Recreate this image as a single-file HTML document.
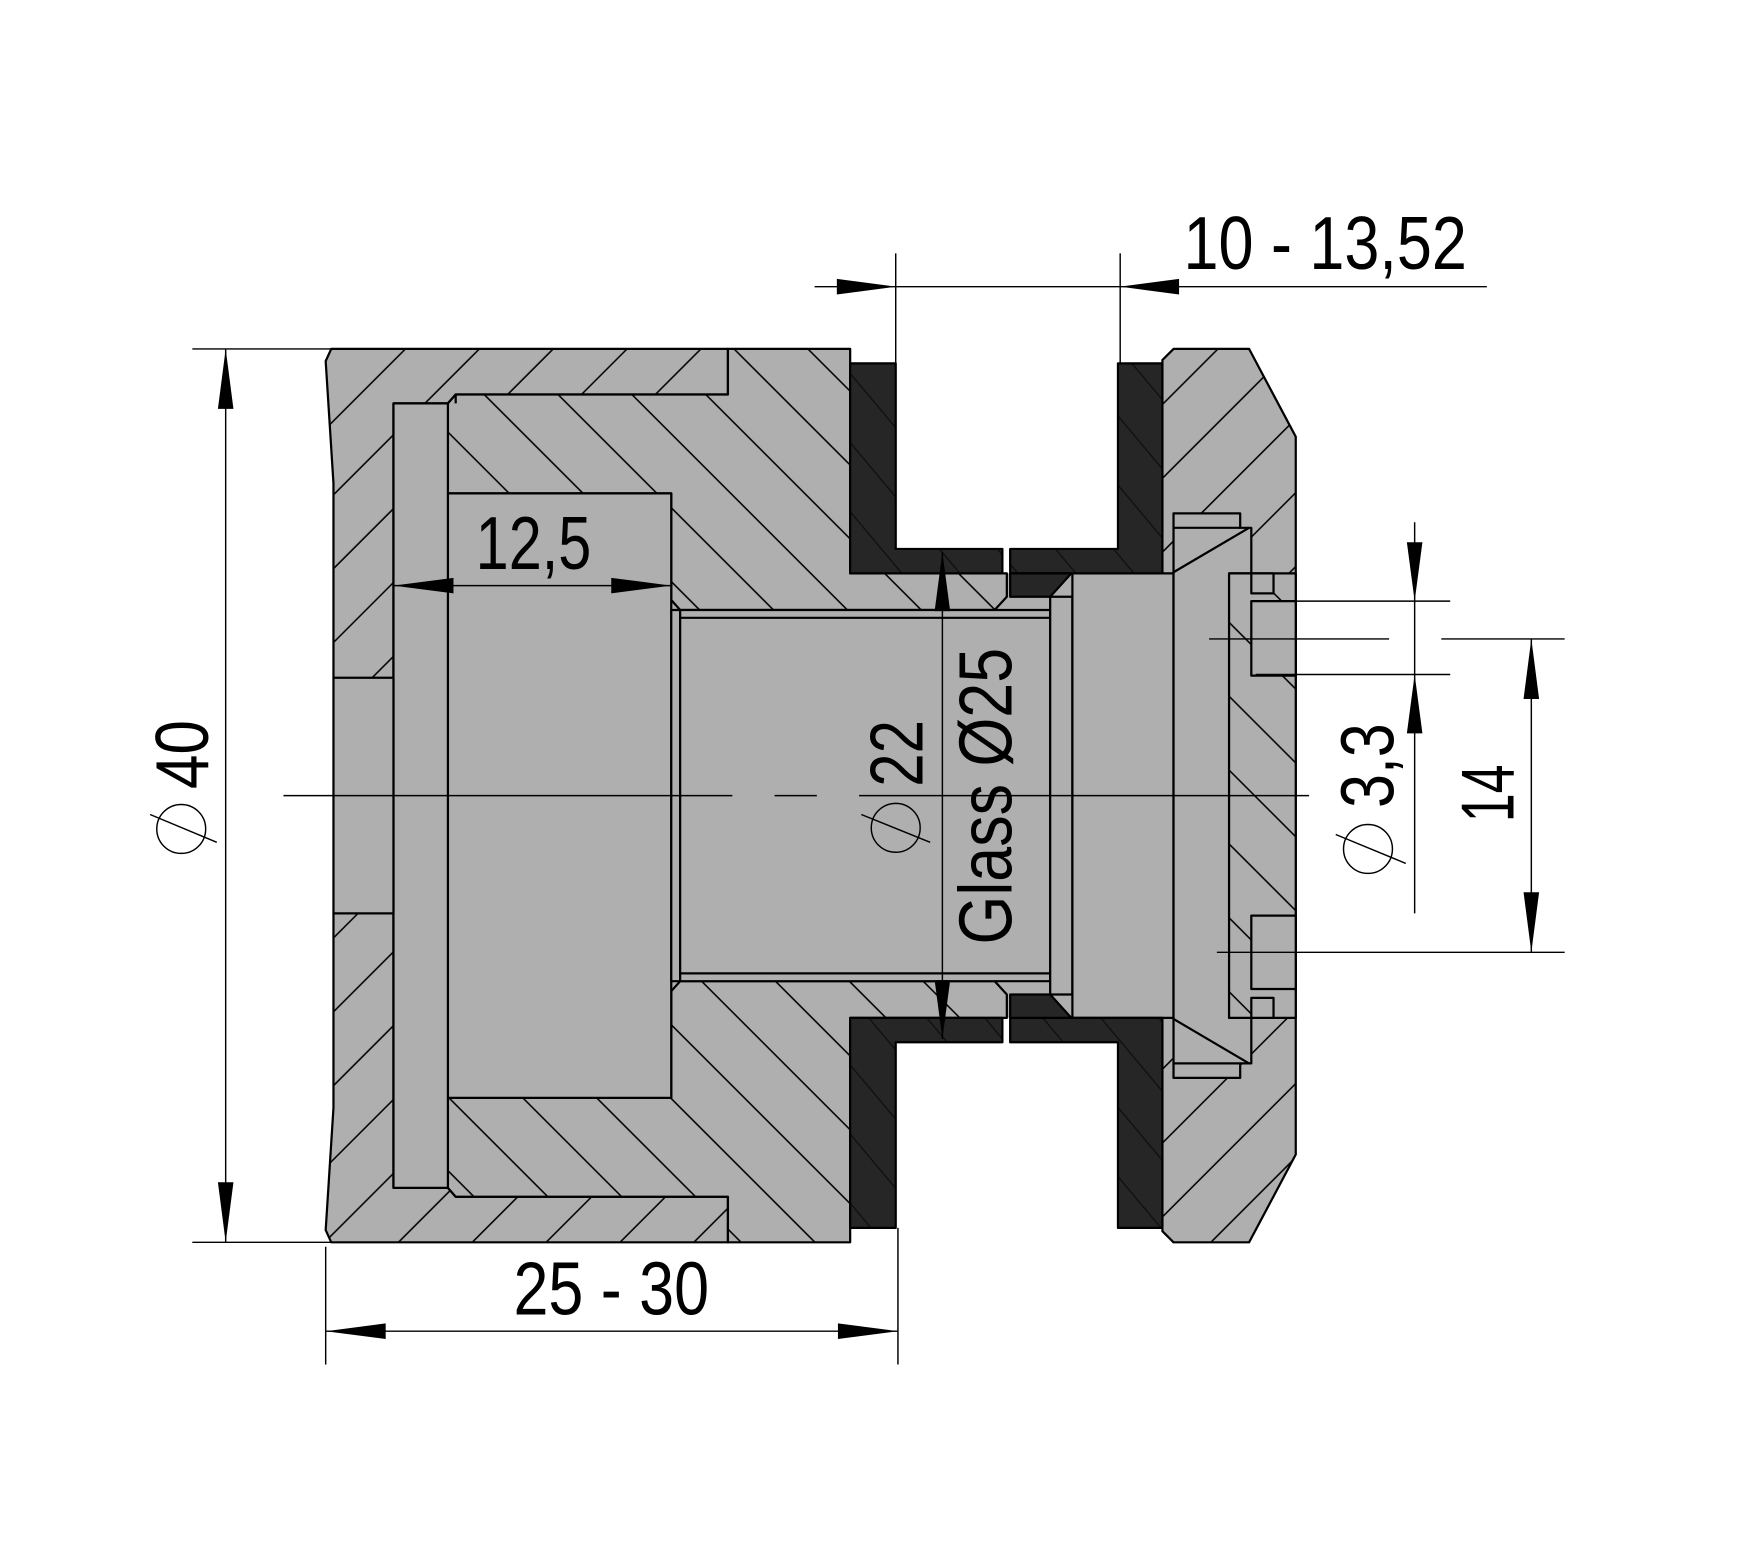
<!DOCTYPE html>
<html><head><meta charset="utf-8"><style>html,body{margin:0;padding:0;background:#fff}svg{display:block}</style></head>
<body>
<svg width="1737" height="1559" viewBox="0 0 1563 1403" xmlns="http://www.w3.org/2000/svg">
<defs>
<pattern id="hf" patternUnits="userSpaceOnUse" width="47" height="47" patternTransform="rotate(45)"><line x1="10" y1="0" x2="10" y2="47" stroke="#000" stroke-width="1.4"/></pattern>
<pattern id="hb" patternUnits="userSpaceOnUse" width="47" height="47" patternTransform="rotate(-45)"><line x1="10" y1="0" x2="10" y2="47" stroke="#000" stroke-width="1.4"/></pattern>
<pattern id="hs" patternUnits="userSpaceOnUse" width="40" height="40" patternTransform="rotate(-40)"><line x1="10" y1="0" x2="10" y2="40" stroke="#000" stroke-width="1.2"/></pattern>
</defs>
<rect x="600" y="516" width="370" height="400" fill="#afafaf"/>
<g stroke="#000" stroke-width="2" stroke-linejoin="round">
<g fill="#afafaf">
<polygon points="298,314 655,314 655,355 410,355 403,363 354,363 354,610 300,610 300,435 293,325"/>
<polygon points="354,822 300,822 300,997 293,1107 298,1118 655,1118 655,1077 410,1077 403,1069 354,1069"/>
<polygon points="655,314 765,314 765,516 906,516 906,537 895,549 612,549 604,540 604,444 403,444 403,363 410,355 655,355"/>
<polygon points="655,1118 765,1118 765,916 906,916 906,895 895,883 612,883 604,892 604,988 403,988 403,1069 410,1077 655,1077"/>
<polygon points="1046,324 1056,314 1124,314 1166,393 1166,1039 1124,1118 1056,1118 1046,1108"/>
</g>
<g stroke="none">
<polygon points="298,314 655,314 655,355 410,355 403,363 354,363 354,610 300,610 300,435 293,325" fill="url(#hf)"/>
<polygon points="354,822 300,822 300,997 293,1107 298,1118 655,1118 655,1077 410,1077 403,1069 354,1069" fill="url(#hf)"/>
<polygon points="655,314 765,314 765,516 906,516 906,537 895,549 612,549 604,540 604,444 403,444 403,363 410,355 655,355" fill="url(#hb)"/>
<polygon points="655,1118 765,1118 765,916 906,916 906,895 895,883 612,883 604,892 604,988 403,988 403,1069 410,1077 655,1077" fill="url(#hb)"/>
<polygon points="1046,324 1056,314 1124,314 1166,393 1166,1039 1124,1118 1056,1118 1046,1108" fill="url(#hf)"/>
</g>
<g fill="#afafaf">
<rect x="403" y="444" width="201" height="544"/>
<rect x="354" y="363" width="49" height="706"/>
<rect x="300" y="610" width="54" height="212"/>
<rect x="604" y="549" width="8" height="334"/>
<rect x="612" y="549" width="333" height="334"/>
<rect x="945" y="537" width="20" height="358"/>
<rect x="965" y="516" width="91" height="400"/>
<polygon points="1056,462 1116,462 1116,475 1126,475 1126,516 1106,516 1106,916 1126,916 1126,957 1116,957 1116,970 1056,970"/>
<rect x="1106" y="516" width="60" height="400"/>
</g>
<rect x="1106" y="516" width="60" height="400" fill="url(#hb)" stroke="none"/>
<g fill="#afafaf">
<rect x="1126" y="541" width="40" height="67"/>
<rect x="1126" y="824" width="40" height="66"/>
<rect x="1126" y="516" width="20" height="18"/>
<rect x="1126" y="898" width="20" height="18"/>
</g>
<g fill="none">
<line x1="1056" y1="475" x2="1116" y2="475"/>
<line x1="1056" y1="957" x2="1116" y2="957"/>
<line x1="1056" y1="515" x2="1124" y2="475"/>
<line x1="1056" y1="917" x2="1124" y2="957"/>
<line x1="612" y1="556" x2="945" y2="556"/>
<line x1="612" y1="876" x2="945" y2="876"/>
<line x1="410" y1="355" x2="410" y2="363"/>
</g>
<g fill="#262626">
<polygon points="765,327 806,327 806,494 902,494 902,516 765,516"/>
<polygon points="1006,327 1046,327 1046,516 909,516 909,494 1006,494"/>
<polygon points="909,516 964,516 945,537 909,537"/>
<polygon points="765,1105 806,1105 806,938 902,938 902,916 765,916"/>
<polygon points="1006,1105 1046,1105 1046,916 909,916 909,938 1006,938"/>
<polygon points="909,916 964,916 945,895 909,895"/>
</g>
<g stroke="none" fill="url(#hs)" opacity="0.6">
<polygon points="765,327 806,327 806,494 902,494 902,516 765,516"/>
<polygon points="1006,327 1046,327 1046,516 909,516 909,494 1006,494"/>
<polygon points="765,1105 806,1105 806,938 902,938 902,916 765,916"/>
<polygon points="1006,1105 1046,1105 1046,916 909,916 909,938 1006,938"/>
</g>
</g>
<g stroke="#000" stroke-width="1.3" fill="none">
<line x1="255" y1="716" x2="659" y2="716"/>
<line x1="697" y1="716" x2="735" y2="716"/>
<line x1="773" y1="716" x2="1178" y2="716"/>
<line x1="173" y1="314" x2="298" y2="314"/>
<line x1="173" y1="1118" x2="298" y2="1118"/>
<line x1="203" y1="314" x2="203" y2="1118"/>
<line x1="293" y1="1122" x2="293" y2="1228"/>
<line x1="808" y1="1105" x2="808" y2="1228"/>
<line x1="293" y1="1198" x2="808" y2="1198"/>
<line x1="806" y1="228" x2="806" y2="327"/>
<line x1="1008" y1="228" x2="1008" y2="327"/>
<line x1="733" y1="258" x2="1338" y2="258"/>
<line x1="354" y1="527" x2="604" y2="527"/>
<line x1="848" y1="497" x2="848" y2="935"/>
<line x1="1273" y1="470" x2="1273" y2="822"/>
<line x1="1130" y1="541" x2="1305" y2="541"/>
<line x1="1130" y1="607" x2="1305" y2="607"/>
<line x1="1088" y1="575" x2="1250" y2="575"/>
<line x1="1297" y1="575" x2="1408" y2="575"/>
<line x1="1095" y1="857" x2="1408" y2="857"/>
<line x1="1378" y1="575" x2="1378" y2="857"/>
</g>
<g fill="#000">
<polygon points="203,314 196,368 210,368"/>
<polygon points="203,1118 196,1064 210,1064"/>
<polygon points="293,1198 347,1191 347,1205"/>
<polygon points="808,1198 754,1191 754,1205"/>
<polygon points="806,258 753,251 753,265"/>
<polygon points="1008,258 1061,251 1061,265"/>
<polygon points="354,527 408,520 408,534"/>
<polygon points="604,527 550,520 550,534"/>
<polygon points="848,497 841,550 855,550"/>
<polygon points="848,935 841,882 855,882"/>
<polygon points="1273,541 1266,488 1280,488"/>
<polygon points="1273,607 1266,660 1280,660"/>
<polygon points="1378,575 1371,629 1385,629"/>
<polygon points="1378,857 1371,803 1385,803"/>
</g>
<g stroke="#000" stroke-width="1.3" fill="none">
<ellipse cx="163" cy="746" rx="22" ry="22"/><line x1="135" y1="733" x2="195" y2="758"/>
<ellipse cx="806" cy="745" rx="22" ry="22"/><line x1="775" y1="733" x2="837" y2="758"/>
<ellipse cx="1231" cy="764" rx="22" ry="22"/><line x1="1202" y1="751" x2="1265" y2="777"/>
</g>
<g font-family="'Liberation Sans Narrow','Liberation Sans',sans-serif" font-size="68" fill="#000">
<text x="1065" y="242" textLength="255" lengthAdjust="spacingAndGlyphs">10 - 13,52</text>
<text x="428" y="512" textLength="104" lengthAdjust="spacingAndGlyphs">12,5</text>
<text x="462" y="1183" textLength="176" lengthAdjust="spacingAndGlyphs">25 - 30</text>
<text transform="translate(187,710) rotate(-90)" textLength="62" lengthAdjust="spacingAndGlyphs">40</text>
<text transform="translate(830,708) rotate(-90)" textLength="60" lengthAdjust="spacingAndGlyphs">22</text>
<text transform="translate(910,850) rotate(-90)" textLength="267" lengthAdjust="spacingAndGlyphs">Glass Ø25</text>
<text transform="translate(1254,727) rotate(-90)" textLength="76" lengthAdjust="spacingAndGlyphs">3,3</text>
<text transform="translate(1362,740) rotate(-90)" textLength="52" lengthAdjust="spacingAndGlyphs">14</text>
</g>
</svg>
</body></html>
